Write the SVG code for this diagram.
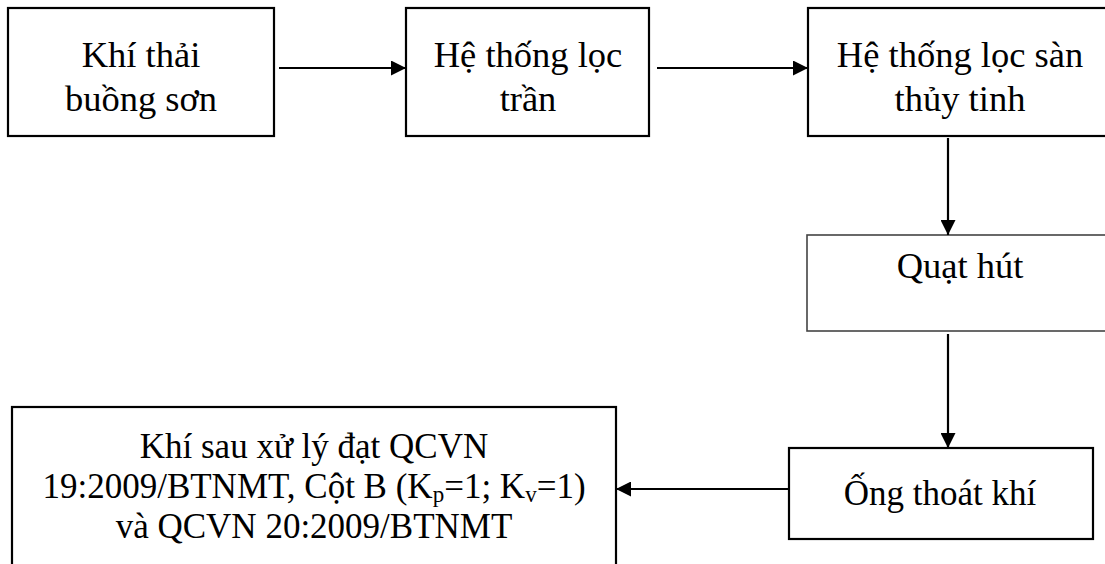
<svg xmlns="http://www.w3.org/2000/svg" width="1105" height="564" viewBox="0 0 1105 564">
<style>
.box{fill:#fff;stroke:#000;stroke-width:2.2}
.box2{fill:#fff;stroke:#444;stroke-width:1.6}
.t{font-family:"Liberation Serif","Times New Roman",serif;font-size:36.5px;fill:#000;text-anchor:middle}
.s{font-size:35px}
.conn{stroke:#000;stroke-width:2.2;fill:none;marker-end:url(#ah)}
</style>
<defs>
<marker id="ah" markerUnits="userSpaceOnUse" markerWidth="15" markerHeight="15" refX="15" refY="7.5" orient="auto">
<path d="M0,0 L15,7.5 L0,15 z" fill="#000"/>
</marker>
</defs>
<rect width="1105" height="564" fill="#fff"/>
<g id="n1">
<rect class="box" x="8" y="8" width="266" height="128"/>
<text class="t" x="141" y="67">Khí thải</text>
<text class="t" x="141" y="111">buồng sơn</text>
</g>
<g id="n2">
<rect class="box" x="406" y="8" width="243" height="128"/>
<text class="t" x="528" y="67">Hệ thống lọc</text>
<text class="t" x="528" y="111">trần</text>
</g>
<g id="n3">
<rect class="box" x="808" y="8" width="305" height="128"/>
<text class="t" x="960" y="67">Hệ thống lọc sàn</text>
<text class="t" x="960" y="111">thủy tinh</text>
</g>
<g id="n4">
<rect class="box2" x="807" y="235" width="306" height="96"/>
<text class="t" x="960" y="278">Quạt hút</text>
</g>
<g id="n5">
<rect class="box" x="789" y="448" width="304" height="91"/>
<text class="t s" x="940" y="505">Ống thoát khí</text>
</g>
<g id="n6">
<rect class="box" x="12" y="407" width="604" height="175"/>
<text class="t s" x="314" y="458">Khí sau xử lý đạt QCVN</text>
<text class="t s" x="314" y="498">19:2009/BTNMT, Cột B (K<tspan font-size="23" dy="4">p</tspan><tspan dy="-4">=1; K</tspan><tspan font-size="23" dy="4">v</tspan><tspan dy="-4">=1)</tspan></text>
<text class="t s" x="314" y="538">và QCVN 20:2009/BTNMT</text>
</g>
<g id="connectors">
<line class="conn" x1="279" y1="68" x2="406" y2="68"/>
<line class="conn" x1="657" y1="68" x2="808" y2="68"/>
<line class="conn" x1="948" y1="138" x2="948" y2="235"/>
<line class="conn" x1="948" y1="334" x2="948" y2="448"/>
<line class="conn" x1="789" y1="489" x2="616" y2="489"/>
</g>
</svg>
